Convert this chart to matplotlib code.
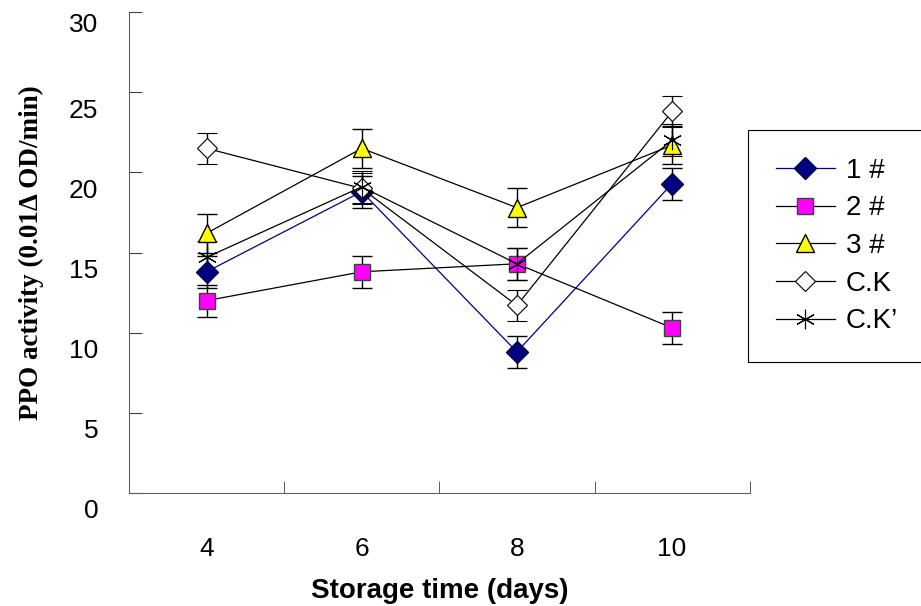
import matplotlib.pyplot as plt
import matplotlib.transforms as mtransforms
from matplotlib.lines import Line2D
import numpy as np

days = ['4', '6', '8', '10']
labels = ['1 #', '2 #', '3 #', 'C.K', 'C.K\u2019']

s1 = [13.8, 18.8, 8.8, 19.3]
s2 = [12.0, 13.8, 14.3, 10.3]
s3 = [16.2, 21.5, 17.8, 21.7]
ck = [21.5, 19.0, 11.7, 23.8]
ck2 = [14.7, 19.1, 14.3, 22.0]

e1 = [1.0, 1.0, 1.0, 1.0]
e2 = [1.0, 1.0, 1.0, 1.0]
e3 = [1.2, 1.2, 1.2, 1.2]
eck = [0.95, 0.95, 0.95, 0.95]
eck2 = [1.0, 1.0, 1.0, 1.0]

plt.rcParams['font.family'] = ['Liberation Sans', 'DejaVu Sans']

fig = plt.figure(figsize=(9.21, 6.06), dpi=100)
ax = fig.add_axes([0.140, 0.1865, 0.674, 0.7935])

x = np.arange(len(days))
styles = [
    (s1, e1, '#000080', dict(marker='D', ms=11, mfc='#000080', mec='#000040')),
    (s2, e2, 'black', dict(marker='s', ms=12, mfc='#FF00FF', mec='#404040')),
    (s3, e3, 'black', dict(marker='^', ms=13, mfc='#FFFF00', mec='black')),
    (ck, eck, 'black', dict(marker='D', ms=10, mfc='white', mec='black', mew=0.8)),
    (ck2, eck2, 'black', dict(marker=(6, 2, 0), ms=14, mec='black', mew=0.8)),
]
handles = []
for (vals, err, col, mk), lab in zip(styles, labels):
    ax.errorbar(x, vals, yerr=err, color=col, lw=0.9, ecolor='black',
                elinewidth=1, capsize=7, capthick=1, **mk)
    handles.append(Line2D([], [], color=col, lw=0.9, label=lab, **mk))

ax.set_xlim(-0.5, 3.5)
ax.set_ylim(0, 30)
ax.set_yticks(range(0, 31, 5))
ax.set_xticks(x)
ax.set_xticklabels(days)
ax.set_xticks([0.5, 1.5, 2.5, 3.5], minor=True)
ax.tick_params(axis='x', which='major', length=0, pad=32, labelsize=19)
ax.tick_params(axis='x', which='minor', direction='in', length=9, color='#404040')
ax.tick_params(axis='y', direction='in', length=9, pad=22, labelsize=19, color='#404040')

# tick labels sit a little below their ticks (the top one less so)
for lbl in ax.get_yticklabels():
    dy = -0.10 if lbl.get_text() == '30' else -0.16
    shift = mtransforms.ScaledTranslation(0, dy, fig.dpi_scale_trans)
    lbl.set_transform(lbl.get_transform() + shift)

for side in ['top', 'right']:
    ax.spines[side].set_visible(False)
for side in ['left', 'bottom']:
    ax.spines[side].set_color('#606060')

ax.set_xlabel('Storage time (days)', fontsize=20, fontweight='bold', labelpad=12)
ax.set_ylabel('PPO activity (0.01\u0394 OD/min)', fontsize=19.5, fontweight='bold',
              family=['Liberation Serif', 'DejaVu Serif'], labelpad=18)

leg = ax.legend(handles=handles, loc='upper left',
                bbox_to_anchor=(0.998, 0.0, 0.3, 0.755), mode='expand',
                fontsize=20, frameon=True, fancybox=False, edgecolor='black',
                framealpha=1, handlelength=2.1, handletextpad=0.4,
                labelspacing=0.42, borderpad=1.0, borderaxespad=0)
leg.get_frame().set_linewidth(0.8)

fig.savefig('out.png', dpi=100)
